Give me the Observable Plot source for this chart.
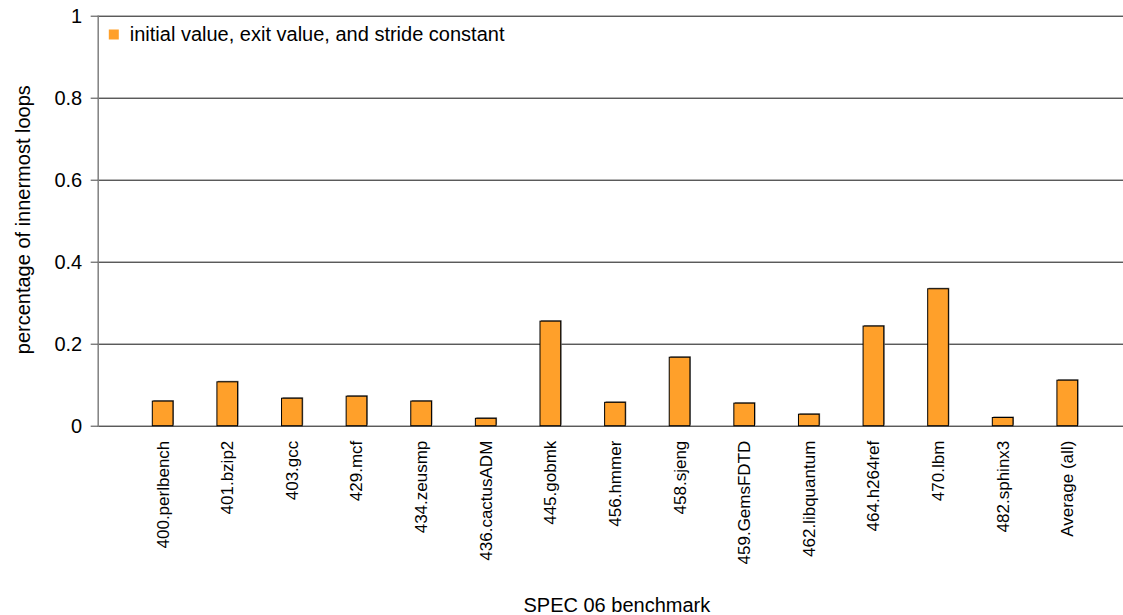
<!DOCTYPE html>
<html>
<head>
<meta charset="utf-8">
<script src="https://cdn.jsdelivr.net/npm/d3@7"></script>
<script src="https://cdn.jsdelivr.net/npm/@observablehq/plot@0.6"></script>
<style>
  html, body { margin: 0; padding: 0; background: #fff; }
  #chart svg { display: block; }
</style>
</head>
<body>
<div id="chart"></div>
<script>
const categories = ["400.perlbench", "401.bzip2", "403.gcc", "429.mcf", "434.zeusmp", "436.cactusADM", "445.gobmk", "456.hmmer", "458.sjeng", "459.GemsFDTD", "462.libquantum", "464.h264ref", "470.lbm", "482.sphinx3", "Average (all)"];
const values = [0.060, 0.107, 0.067, 0.072, 0.060, 0.018, 0.255, 0.057, 0.167, 0.055, 0.028, 0.243, 0.334, 0.020, 0.111];
const yTicks = [0, 0.2, 0.4, 0.6, 0.8, 1];
const seriesName = "initial value, exit value, and stride constant";
const xTitle = "SPEC 06 benchmark";
const yTitle = "percentage of innermost loops";

const data = categories.map((c, i) => ({category: c, value: values[i]}));
const orange = "#ffa02a";
const font = "'Liberation Sans', Arial, sans-serif";

const chart = Plot.plot({
  width: 1123,
  height: 615,
  marginLeft: 97.7,
  marginRight: 0,
  marginTop: 15.7,
  marginBottom: 189.3,
  style: {fontFamily: font, fontSize: "17px", color: "#000", background: "#fff"},
  x: {type: "band", domain: categories, range: [97.7, 1132.2], paddingInner: 0.68, paddingOuter: 0.845, align: 0.5, round: false},
  y: {domain: [0, 1], ticks: yTicks},
  marks: [
    Plot.ruleY(yTicks, {stroke: "#111", strokeWidth: 1}),
    Plot.barY(data, {x: "category", y: "value", fill: "#777", dx: 1, dy: -1}),
    Plot.barY(data, {x: "category", y: "value", fill: orange, stroke: "#000", strokeWidth: 1}),
    Plot.frame({anchor: "left", stroke: "#808080", strokeWidth: 1.5}),
    Plot.axisY({ticks: yTicks, tickSize: 7, tickPadding: 9, tickFormat: d => String(d), fontSize: 20, label: null, stroke: "#444"}),
    Plot.axisX({tickSize: 0, tickPadding: 14.5, tickRotate: -90, fontSize: 17, label: null}),
    Plot.dot([seriesName], {frameAnchor: "top-left", dx: 15.6, dy: 18.3, symbol: "square", r: 5.64, fill: orange, stroke: null}),
    Plot.text([seriesName], {frameAnchor: "top-left", dx: 31.6, dy: 18.5, textAnchor: "start", lineAnchor: "middle", fontSize: 20, fill: "#000"}),
    Plot.text([xTitle], {frameAnchor: "bottom", dx: 6, dy: 179.6, textAnchor: "middle", lineAnchor: "middle", fontSize: 20, fill: "#000"}),
    Plot.text([yTitle], {frameAnchor: "left", dx: -75, dy: -1.5, rotate: -90, textAnchor: "middle", lineAnchor: "middle", fontSize: 20, fill: "#000"})
  ]
});
document.getElementById("chart").appendChild(chart);
</script>
</body>
</html>
